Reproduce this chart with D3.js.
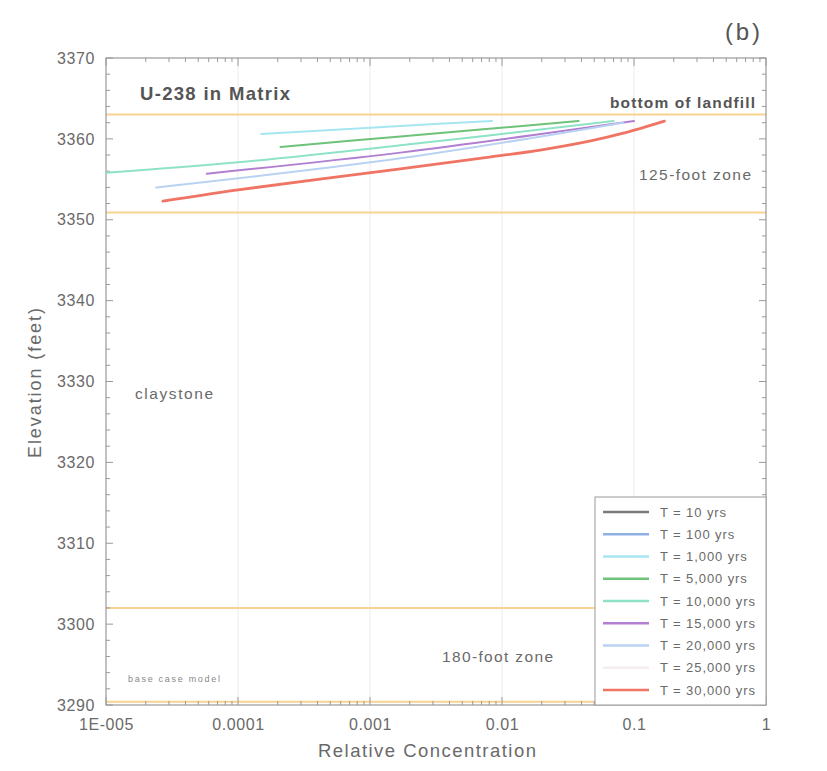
<!DOCTYPE html>
<html><head><meta charset="utf-8">
<script src="https://cdn.jsdelivr.net/npm/d3@7"></script>
<style>body{margin:0;background:#fff;}svg text{font-family:"Liberation Sans",Arial,sans-serif;}</style>
</head><body><svg id="c" width="827" height="771"></svg>
<script>
// ---- data ----
const seriesNames = ["T = 10 yrs","T = 100 yrs","T = 1,000 yrs","T = 5,000 yrs","T = 10,000 yrs","T = 15,000 yrs","T = 20,000 yrs","T = 25,000 yrs","T = 30,000 yrs"];
const seriesColors = ["#7a7a7a","#8fb0e4","#a6e6f2","#6fc27a","#8ee3c6","#b27ed2","#b9d2f2","#f6eeee","#f07464"];
// [relative concentration, elevation ft]
const t10 = [];
const t100 = [];
const t1000 = [[1.5e-4,3360.6],[1.7e-3,3361.6],[8.4e-3,3362.2]];
const t5000 = [[2.1e-4,3359.0],[1.7e-3,3360.3],[0.038,3362.2]];
const t10000 = [[1e-5,3355.8],[1e-4,3357.1],[1.7e-3,3359.2],[0.07,3362.2]];
const t15000 = [[5.8e-5,3355.7],[1.7e-3,3358.3],[0.1,3362.2]];
const t20000 = [[2.4e-5,3354.0],[1.7e-3,3357.6],[0.083,3362.0]];
const t25000 = [];
const t30000 = [[2.7e-5,3352.3],[1e-4,3353.7],[1.7e-3,3356.3],[8e-3,3357.75],[0.02,3358.65],[0.047,3359.75],[0.083,3360.7],[0.17,3362.2]];
const seriesData = [t10,t100,t1000,t5000,t10000,t15000,t20000,t25000,t30000];
const xTicks = [1e-5,1e-4,1e-3,1e-2,1e-1,1];
const xTickLabels = ["1E-005","0.0001","0.001","0.01","0.1","1"];
const yTicks = [3290,3300,3310,3320,3330,3340,3350,3360,3370];
const zoneLines = [3363,3350.9,3302,3290.4];

// ---- layout ----
const L=106,R=766,T=58,B=705;
const svg=d3.select("#c");
const x=d3.scaleLog().domain([1e-5,1]).range([L,R]);
const y=d3.scaleLinear().domain([3290,3370]).range([B,T]);
const txt="#6a6a6a", frame="#9a9a9a";

// vertical grid at decades
svg.append("g").selectAll("line").data(xTicks.slice(1,-1)).join("line")
  .attr("x1",d=>x(d)).attr("x2",d=>x(d)).attr("y1",T).attr("y2",B)
  .attr("stroke","#ebebeb").attr("stroke-width",1);

// zone lines
svg.append("g").selectAll("line").data(zoneLines).join("line")
  .attr("x1",L).attr("x2",R).attr("y1",d=>y(d)).attr("y2",d=>y(d))
  .attr("stroke","#f6d38e").attr("stroke-width",2);

// minor ticks
const minor=[];
for(let e=-5;e<0;e++)for(let k=2;k<=9;k++)minor.push(k*Math.pow(10,e));
const gT=svg.append("g");
gT.selectAll(".mb").data(minor).join("line").attr("x1",d=>x(d)).attr("x2",d=>x(d)).attr("y1",B).attr("y2",B-4).attr("stroke",frame);
gT.selectAll(".mt").data(minor).join("line").attr("x1",d=>x(d)).attr("x2",d=>x(d)).attr("y1",T).attr("y2",T+4).attr("stroke",frame);
gT.selectAll(".Mb").data(xTicks).join("line").attr("x1",d=>x(d)).attr("x2",d=>x(d)).attr("y1",B).attr("y2",B-8).attr("stroke",frame);
gT.selectAll(".Mt").data(xTicks).join("line").attr("x1",d=>x(d)).attr("x2",d=>x(d)).attr("y1",T).attr("y2",T+8).attr("stroke",frame);
const yMinor=d3.range(3290,3371,2);
gT.selectAll(".yl").data(yMinor).join("line").attr("x1",L).attr("x2",d=>L+(d%10===0?7:4)).attr("y1",d=>y(d)).attr("y2",d=>y(d)).attr("stroke",frame);
gT.selectAll(".yr").data(yMinor).join("line").attr("x1",R).attr("x2",d=>R-(d%10===0?7:4)).attr("y1",d=>y(d)).attr("y2",d=>y(d)).attr("stroke",frame);

// frame
svg.append("rect").attr("x",L).attr("y",T).attr("width",R-L).attr("height",B-T).attr("fill","none").attr("stroke",frame).attr("stroke-width",1.2);

// axes labels via d3 axes (no domain lines)
const xa=svg.append("g").attr("transform",`translate(0,${B})`)
  .call(d3.axisBottom(x).tickValues(xTicks).tickFormat((d,i)=>xTickLabels[i]).tickSize(0).tickPadding(14));
xa.select(".domain").remove();
xa.selectAll("text").attr("fill",txt).attr("font-size",16).attr("letter-spacing",0.6).attr("font-family","Liberation Sans, Arial, sans-serif");
const ya=svg.append("g").attr("transform",`translate(${L},0)`)
  .call(d3.axisLeft(y).tickValues(yTicks).tickFormat(d3.format("d")).tickSize(0).tickPadding(11));
ya.select(".domain").remove();
ya.selectAll("text").attr("fill",txt).attr("font-size",16).attr("letter-spacing",0.6).attr("font-family","Liberation Sans, Arial, sans-serif");

// series
const line=d3.line().x(d=>x(d[0])).y(d=>y(d[1])).curve(d3.curveCatmullRom);
svg.append("g").selectAll("path").data(seriesData.map((d,i)=>({d,i})).filter(o=>o.d.length)).join("path")
  .attr("d",o=>line(o.d)).attr("fill","none").attr("stroke",o=>seriesColors[o.i])
  .attr("stroke-width",o=>o.i===8?2.8:2).attr("stroke-linecap","round");

// annotations
function lab(xp,yp,s,size,len,opts={}){
  const t=svg.append("text").attr("x",xp).attr("y",yp).attr("font-size",size).attr("fill",opts.fill||txt).text(s);
  if(len){t.attr("textLength",len).attr("lengthAdjust","spacing");}
  if(opts.bold)t.attr("font-weight","bold");
  return t;
}
lab(725,40,"(b)",24,35,{fill:"#555"});
lab(140,100,"U-238 in Matrix",18.5,150,{fill:"#555",bold:true});
lab(610,108,"bottom of landfill",15.5,145,{fill:"#555",bold:true});
lab(639,180,"125-foot zone",15.5,112);
lab(135,399,"claystone",15.5,78);
lab(442,662,"180-foot zone",15.5,111);
lab(128,682,"base case model",9,92,{fill:"#888"});
svg.append("text").attr("transform","translate(41,383) rotate(-90)").attr("text-anchor","middle").attr("font-size",18).attr("fill",txt)
  .attr("textLength",150).attr("lengthAdjust","spacing").text("Elevation (feet)");
svg.append("text").attr("x",318).attr("y",757).attr("font-size",18.5).attr("fill",txt)
  .attr("textLength",218).attr("lengthAdjust","spacing").text("Relative Concentration");

// legend
const lg=svg.append("g");
lg.append("rect").attr("x",595).attr("y",497).attr("width",R-595).attr("height",B-497).attr("fill","#fff").attr("stroke",frame).attr("stroke-width",1);
const ly=d3.scalePoint().domain(seriesNames).range([512,690]);
const items=lg.selectAll("g").data(seriesNames).join("g").attr("transform",d=>`translate(0,${ly(d)})`);
items.append("line").attr("x1",603).attr("x2",649).attr("stroke",(d,i)=>seriesColors[i]).attr("stroke-width",2.4);
items.append("text").attr("x",660).attr("y",4.5).attr("font-size",13).attr("letter-spacing",0.9).attr("fill",txt).text(d=>d);
</script></body></html>
